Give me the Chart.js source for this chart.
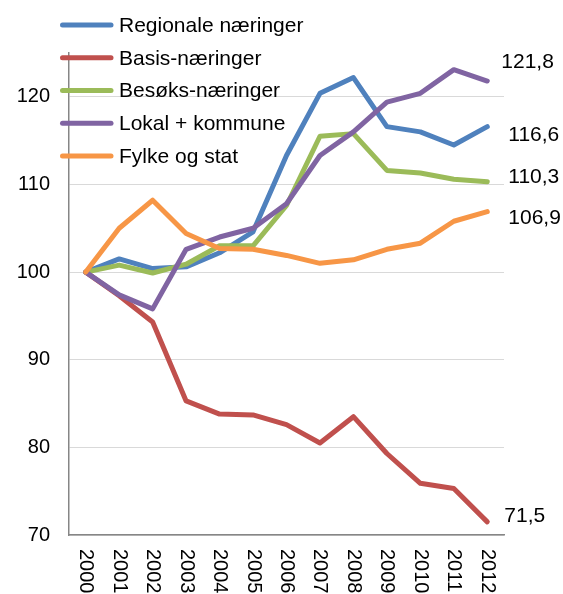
<!DOCTYPE html>
<html>
<head>
<meta charset="utf-8">
<script src="https://cdn.jsdelivr.net/npm/chart.js@4"></script>
<style>
  body { margin: 0; background: #fff; }
  canvas { display: block; }
</style>
</head>
<body>
<canvas id="chart" width="563" height="594"></canvas>
<script>
/* Index values, 2000 = 100 */
const years = ['2000', '2001', '2002', '2003', '2004', '2005', '2006', '2007', '2008', '2009', '2010', '2011', '2012'];
const seriesNames = ['Regionale næringer', 'Basis-næringer', 'Besøks-næringer', 'Lokal + kommune', 'Fylke og stat'];
const regionale = [100, 101.5, 100.4, 100.6, 102.2, 104.6, 113.3, 120.4, 122.2, 116.6, 116.0, 114.5, 116.6];
const basis = [100, 97.3, 94.3, 85.3, 83.8, 83.7, 82.6, 80.5, 83.5, 79.3, 75.9, 75.3, 71.5];
const besoks = [100, 100.8, 99.9, 100.9, 103.0, 103.0, 107.6, 115.5, 115.8, 111.6, 111.3, 110.6, 110.3];
const lokal = [100, 97.4, 95.8, 102.6, 104.0, 105.0, 107.8, 113.3, 116.0, 119.4, 120.4, 123.1, 121.8];
const fylke = [100, 105.0, 108.2, 104.4, 102.7, 102.6, 101.9, 101.0, 101.4, 102.6, 103.3, 105.8, 106.9];
const yTicks = [70, 80, 90, 100, 110, 120];

const colors = ['#4f81bd', '#c0504d', '#9bbb59', '#8064a2', '#f79646'];
const FONT = '"Liberation Sans", Arial, sans-serif';

const allSeries = [regionale, basis, besoks, lokal, fylke];

// Excel draws later series on top, so reverse Chart.js' order
const datasets = allSeries.map((values, i) => ({
    label: seriesNames[i],
    data: values,
    borderColor: colors[i],
    backgroundColor: colors[i],
    borderWidth: 5,
    borderJoinStyle: 'round',
    borderCapStyle: 'round',
    pointRadius: 0,
    tension: 0,
    fill: false,
    order: allSeries.length - i
}));

/* Rotated year labels, end-of-line values and the legend box */
const extrasPlugin = {
    id: 'extras',
    afterDraw(chart) {
        const ctx = chart.ctx;
        const xScale = chart.scales.x;
        const yScale = chart.scales.y;
        ctx.save();

        // x labels, turned 90 degrees clockwise
        ctx.fillStyle = '#000';
        ctx.font = '20px ' + FONT;
        ctx.textAlign = 'left';
        ctx.textBaseline = 'middle';
        years.forEach((year, i) => {
            ctx.save();
            ctx.translate(xScale.getPixelForValue(i), chart.chartArea.bottom + 14);
            ctx.rotate(Math.PI / 2);
            ctx.fillText(year, 0, 0);
            ctx.restore();
        });

        // last values at the right end
        const shift = [[21, 9], [17, -6], [21, -5], [14, -19], [21, 6.5]];
        ctx.font = '21px ' + FONT;
        allSeries.forEach((values, i) => {
            const last = values.length - 1;
            const x = xScale.getPixelForValue(last) + shift[i][0];
            const y = yScale.getPixelForValue(values[last]) + shift[i][1];
            ctx.fillText(values[last].toFixed(1).replace('.', ','), x, y);
        });

        // legend
        seriesNames.forEach((name, i) => {
            const y = 25 + i * 32.75;
            ctx.strokeStyle = colors[i];
            ctx.lineWidth = 5;
            ctx.lineCap = 'round';
            ctx.beginPath();
            ctx.moveTo(62.5, y);
            ctx.lineTo(111, y);
            ctx.stroke();
            ctx.fillText(name, 119, y + 1);
        });
        ctx.restore();
    }
};

new Chart(document.getElementById('chart'), {
    type: 'line',
    data: { labels: years, datasets: datasets },
    options: {
        responsive: false,
        animation: false,
        layout: { padding: { top: 53, right: 59, left: 0, bottom: 0 } },
        plugins: {
            legend: { display: false },
            tooltip: { enabled: false }
        },
        scales: {
            x: {
                offset: true,
                grid: { display: false, drawTicks: false },
                border: { color: '#868686', width: 1.5 },
                ticks: { display: false },
                afterFit: scale => { scale.height = 59; }
            },
            y: {
                min: 70,
                max: 125,
                afterBuildTicks: scale => {
                    scale.ticks = yTicks.map(v => ({ value: v }));
                },
                grid: { color: '#d9d9d9', lineWidth: 1, drawTicks: false },
                border: { color: '#868686', width: 1.5 },
                ticks: {
                    color: '#000',
                    padding: 19,
                    font: { family: FONT, size: 20 }
                },
                afterFit: scale => { scale.width = 69; }
            }
        }
    },
    plugins: [extrasPlugin]
});
</script>
</body>
</html>
